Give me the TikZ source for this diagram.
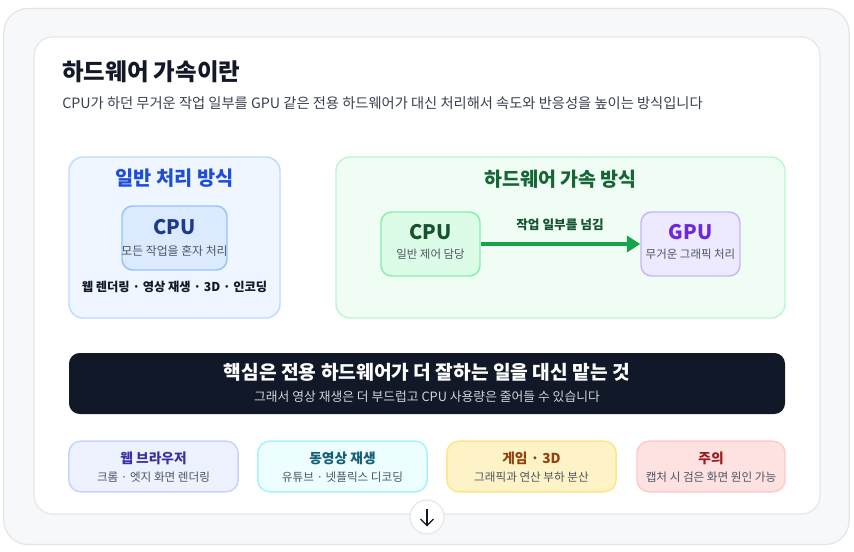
\documentclass[tikz,border=0pt]{standalone}
\usepackage{fontspec}
\setmainfont{Noto Sans CJK KR}
\usetikzlibrary{arrows.meta}
\definecolor{outerfill}{HTML}{F7F8FA}
\definecolor{outerline}{HTML}{E3E5E8}
\definecolor{cardline}{HTML}{E5E7EB}
\definecolor{ink}{HTML}{111827}
\definecolor{subink}{HTML}{374151}
\definecolor{grayink}{HTML}{4B5563}
\definecolor{bluefill}{HTML}{EFF6FF}
\definecolor{blueline}{HTML}{BFDBFE}
\definecolor{bluetitle}{HTML}{1D4ED8}
\definecolor{cpufill}{HTML}{DBEAFE}
\definecolor{cpuline}{HTML}{93C5FD}
\definecolor{cpuink}{HTML}{1E3A8A}
\definecolor{greenfill}{HTML}{F0FDF4}
\definecolor{greenline}{HTML}{BBF7D0}
\definecolor{greentitle}{HTML}{166534}
\definecolor{gcpufill}{HTML}{DCFCE7}
\definecolor{gcpuline}{HTML}{86EFAC}
\definecolor{gcpuink}{HTML}{14532D}
\definecolor{gpufill}{HTML}{EDE9FE}
\definecolor{gpuline}{HTML}{C4B5FD}
\definecolor{gpuink}{HTML}{6D28D9}
\definecolor{arrowgreen}{HTML}{16A34A}
\definecolor{banner}{HTML}{111827}
\definecolor{bannersub}{HTML}{D1D5DB}
\definecolor{c1fill}{HTML}{EEF2FF}\definecolor{c1line}{HTML}{C7D2FE}\definecolor{c1ink}{HTML}{3730A3}
\definecolor{c2fill}{HTML}{ECFEFF}\definecolor{c2line}{HTML}{A5F3FC}\definecolor{c2ink}{HTML}{155E75}
\definecolor{c3fill}{HTML}{FEF3C7}\definecolor{c3line}{HTML}{FDE68A}\definecolor{c3ink}{HTML}{92400E}
\definecolor{c4fill}{HTML}{FEE2E2}\definecolor{c4line}{HTML}{FECACA}\definecolor{c4ink}{HTML}{991B1B}
\tikzset{
  panel/.style={draw, line width=1.1pt, rounded corners=10.5pt, inner sep=0pt},
  chip/.style={draw, line width=1.1pt, rounded corners=8pt, inner sep=0pt},
  card/.style={draw, line width=1.1pt, rounded corners=9pt, inner sep=0pt, minimum height=38pt},
  txt/.style={inner sep=0pt, align=center},
}
\newcommand{\fsz}[1]{\fontsize{#1}{#1}\selectfont}
\begin{document}
\begin{tikzpicture}[x=0.75pt,y=-0.75pt]
\useasboundingbox (0,0) rectangle (854,551);
\fill[white] (0,0) rectangle (854,551);
% outer and inner cards
\node[draw=outerline, fill=outerfill, line width=0.9pt, rounded corners=18pt, minimum width=634pt, minimum height=402pt, inner sep=0pt] (outer) at (426.5,276.5) {};
\node[draw=cardline, fill=white, line width=0.9pt, rounded corners=14pt, minimum width=589.5pt, minimum height=357.75pt, inner sep=0pt] (inner) at (427,275.5) {};
% heading
\node[txt, anchor=west, text=ink] (title) at (62,72) {\fsz{17.6}\bfseries 하드웨어 가속이란};
\node[txt, anchor=west, text=subink] (subtitle) at (62,103) {\fsz{10.7}CPU가 하던 무거운 작업 일부를 GPU 같은 전용 하드웨어가 대신 처리해서 속도와 반응성을 높이는 방식입니다};
% left panel
\node[panel, draw=blueline, fill=bluefill, minimum width=158.25pt, minimum height=120.75pt] (left) at (174.5,237.5) {};
\node[txt, text=bluetitle] (ltitle) at (174.5,178) {\fsz{14.8}\bfseries 일반 처리 방식};
\node[chip, draw=cpuline, fill=cpufill, minimum width=78.75pt, minimum height=48pt] (lcpu) at (174.5,238) {};
\node[txt, text=cpuink] (lcpuT) at (174.5,227) {\fsz{15}\bfseries CPU};
\node[txt, text=grayink] (lcpuS) at (174.5,250.5) {\fsz{8.9}모든 작업을 혼자 처리};
\node[txt, text=ink] (lline) at (174.5,287) {\fsz{9.2}\bfseries 웹 렌더링 · 영상 재생 · 3D · 인코딩};
% right panel
\node[panel, draw=greenline, fill=greenfill, minimum width=336.75pt, minimum height=120.75pt] (right) at (560.5,237.5) {};
\node[txt, text=greentitle] (rtitle) at (560.5,179) {\fsz{14.6}\bfseries 하드웨어 가속 방식};
\node[chip, draw=gcpuline, fill=gcpufill, minimum width=74.25pt, minimum height=48pt] (rcpu) at (430.5,244) {};
\node[txt, text=gcpuink] (rcpuT) at (430.5,232) {\fsz{15}\bfseries CPU};
\node[txt, text=grayink] (rcpuS) at (430.5,254.5) {\fsz{8.6}일반 제어 담당};
\node[chip, draw=gpuline, fill=gpufill, minimum width=74.25pt, minimum height=48pt] (gpu) at (690.5,244) {};
\node[txt, text=gpuink] (gpuT) at (690.5,232) {\fsz{15}\bfseries GPU};
\node[txt, text=grayink] (gpuS) at (690.5,254.5) {\fsz{8.6}무거운 그래픽 처리};
\draw[arrowgreen, line width=3pt, -{Triangle[length=10pt,width=12pt]}] (rcpu.east) -- (gpu.west);
\node[txt, text=gcpuink] (alabel) at (560,225) {\fsz{9.5}\bfseries 작업 일부를 넘김};
% banner
\node[fill=banner, rounded corners=8pt, minimum width=537pt, minimum height=45.75pt, inner sep=0pt] (ban) at (427,383.5) {};
\node[txt, text=white] (banT) at (427,372) {\fsz{14.4}\bfseries 핵심은 전용 하드웨어가 더 잘하는 일을 대신 맡는 것};
\node[txt, text=bannersub] (banS) at (427,396.5) {\fsz{9.6}그래서 영상 재생은 더 부드럽고 CPU 사용량은 줄어들 수 있습니다};
% bottom cards
\node[card, draw=c1line, fill=c1fill, minimum width=127pt] (k1) at (153.5,466.5) {};
\node[txt, text=c1ink] at (153.5,458) {\fsz{10.3}\bfseries 웹 브라우저};
\node[txt, text=grayink] at (153.5,477) {\fsz{8.7}크롬 · 엣지 화면 렌더링};
\node[card, draw=c2line, fill=c2fill, minimum width=127pt] (k2) at (342.5,466.5) {};
\node[txt, text=c2ink] at (342.5,458) {\fsz{10.3}\bfseries 동영상 재생};
\node[txt, text=grayink] at (342.5,477) {\fsz{8.7}유튜브 · 넷플릭스 디코딩};
\node[card, draw=c3line, fill=c3fill, minimum width=127pt] (k3) at (531.5,466.5) {};
\node[txt, text=c3ink] at (531.5,458) {\fsz{10.3}\bfseries 게임 · 3D};
\node[txt, text=grayink] at (531.5,477) {\fsz{8.7}그래픽과 연산 부하 분산};
\node[card, draw=c4line, fill=c4fill, minimum width=111pt] (k4) at (711,466.5) {};
\node[txt, text=c4ink] at (711,458) {\fsz{10.3}\bfseries 주의};
\node[txt, text=grayink] at (711,477) {\fsz{8.7}캡처 시 검은 화면 원인 가능};
% scroll button
\node[circle, draw=cardline, fill=white, line width=0.9pt, minimum size=25.5pt, inner sep=0pt] (down) at (427,517) {};
\draw[ink, line width=0.9pt] (427,508.5) -- (427,525.5);
\draw[ink, line width=0.9pt, line join=miter] (420.5,519) -- (427,525.5) -- (433.5,519);
\end{tikzpicture}
\end{document}
